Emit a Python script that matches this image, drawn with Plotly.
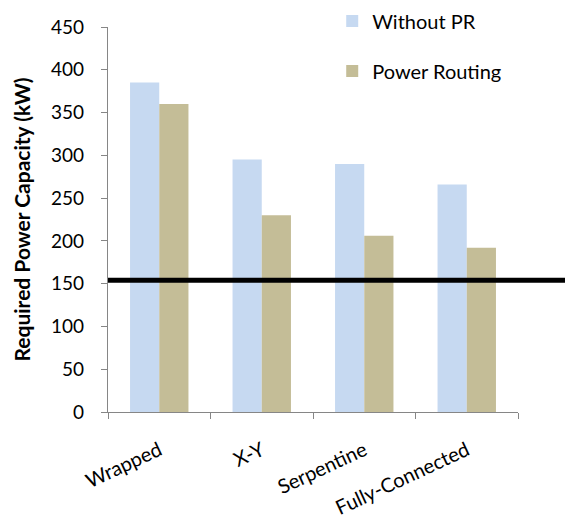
import plotly.graph_objects as go

# Network topologies and required power capacity (kW)
topologies = ["Wrapped", "X-Y", "Serpentine", "Fully-Connected"]
without_pr = [385, 295, 290, 266]
power_routing = [360, 230, 206, 192]
reference_level = 154
y_ticks = [0, 50, 100, 150, 200, 250, 300, 350, 400, 450]

FONT = "Lato"
AXIS_GRAY = "#868686"

fig = go.Figure()
fig.add_trace(go.Bar(
    x=topologies, y=without_pr, name="Without PR",
    marker=dict(color="#C6D9F1", line=dict(width=0)),
    legendgroup="a",
))
fig.add_trace(go.Bar(
    x=topologies, y=power_routing, name="Power Routing",
    marker=dict(color="#C4BD97", line=dict(width=0)),
    legendgroup="b",
))

# Horizontal reference line, running past the plot to the right edge
fig.add_shape(
    type="line", xref="paper", yref="y",
    x0=0, x1=1.2, y0=reference_level, y1=reference_level,
    line=dict(color="black", width=5),
)

fig.update_layout(
    width=565, height=520,
    margin=dict(l=108, r=47, t=27, b=108, autoexpand=False),
    paper_bgcolor="white", plot_bgcolor="white",
    font=dict(family=FONT, color="black", size=19),
    barmode="group", bargap=0.43, bargroupgap=0,
    showlegend=True,
    legend=dict(
        xref="container", yref="container",
        x=0.588, y=0.997, xanchor="left", yanchor="top",
        font=dict(size=20, family=FONT),
        tracegroupgap=21, bgcolor="rgba(0,0,0,0)",
    ),
    xaxis=dict(
        type="category", showline=True, linecolor=AXIS_GRAY, linewidth=1.3,
        ticks="outside", tickson="boundaries", ticklen=6, tickcolor=AXIS_GRAY,
        tickangle=-25, tickfont=dict(size=20, family=FONT),
        ticklabelstandoff=18, showgrid=False,
    ),
    yaxis=dict(
        range=[0, 450], tickvals=y_ticks, showline=True, linecolor=AXIS_GRAY,
        linewidth=1.3, ticks="outside", ticklen=6, tickcolor=AXIS_GRAY,
        showgrid=False, zeroline=False, ticklabelstandoff=13,
        tickfont=dict(size=19, family=FONT),
        title=dict(text="<b>Required Power Capacity (kW)</b>",
                   font=dict(size=21, family=FONT), standoff=14),
    ),
)

fig.write_html("out.html")
